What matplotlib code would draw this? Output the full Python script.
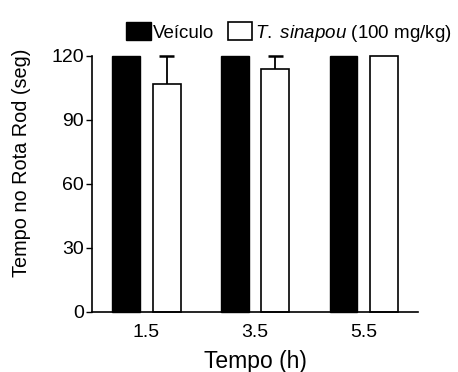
import numpy as np
import matplotlib
matplotlib.use("Agg")
import matplotlib.pyplot as plt
from matplotlib.patches import Patch

plt.rcParams['font.family'] = ['Liberation Sans', 'DejaVu Sans']
plt.rcParams['mathtext.fontset'] = 'custom'
plt.rcParams['mathtext.it'] = 'Liberation Sans:italic'
plt.rcParams['mathtext.rm'] = 'Liberation Sans'

# data
tempos = ["1.5", "3.5", "5.5"]
veiculo = [120, 120, 120]
sinapou = [107, 113.7, 120]
sinapou_err = [13, 6.3, 0]

fig = plt.figure(figsize=(4.58, 3.72), dpi=100)
ax = fig.add_axes([0.2009, 0.1613, 0.7118, 0.6887])

x = np.arange(len(tempos))
w = 0.257
off = 0.186

ax.bar(x - off, veiculo, w, color="black", edgecolor="black", linewidth=1, clip_on=False)
ax.bar(x + off, sinapou, w, color="white", edgecolor="black", linewidth=1.2, clip_on=False)

# upper error bars only
top = np.array(sinapou) + np.array(sinapou_err)
has_err = np.array(sinapou_err) > 0
ax.vlines((x + off)[has_err], np.array(sinapou)[has_err], top[has_err],
          color="black", linewidth=1.3, clip_on=False)
ax.hlines(top[has_err], (x + off - 0.07)[has_err], (x + off + 0.07)[has_err],
          color="black", linewidth=1.8, clip_on=False)

ax.set_xlim(-0.5, 2.5)
ax.set_ylim(0, 120)
ax.set_yticks([0, 30, 60, 90, 120])
ax.set_xticks(x)
ax.set_xticklabels(tempos, fontsize=14, family=['Liberation Sans Narrow', 'Liberation Sans'])
ax.tick_params(axis='x', length=0, pad=9)
ax.tick_params(axis='y', length=4, width=1, labelsize=14, pad=2)
for s in ['top', 'right']:
    ax.spines[s].set_visible(False)
for s in ['left', 'bottom']:
    ax.spines[s].set_linewidth(1.2)

ax.set_ylabel("Tempo no Rota Rod (seg)", fontsize=14.3)
ax.yaxis.set_label_coords(-0.186, 0.583)
ax.set_xlabel("Tempo (h)", fontsize=16.5, labelpad=6)

handles = [Patch(facecolor="black", edgecolor="black"),
           Patch(facecolor="white", edgecolor="black", linewidth=1.2)]
labels = ["Veículo", r"$\it{T.\ sinapou}$ (100 mg/kg)"]
fig.legend(handles, labels, loc="upper right", bbox_to_anchor=(1.015, 0.975),
           ncol=2, frameon=False, fontsize=13.5, handlelength=1.3, handleheight=1.1,
           handletextpad=0.15, columnspacing=0.7, borderaxespad=0.3)

fig.savefig("out.png", dpi=100)
